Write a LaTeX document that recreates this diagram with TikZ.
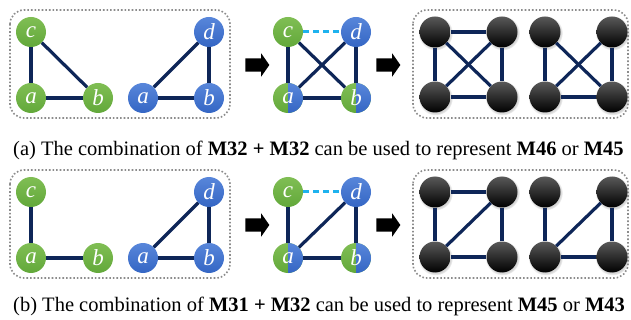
\documentclass[tikz,border=0pt]{standalone}
\usepackage{fontspec}
\setmainfont{Liberation Serif}
\usetikzlibrary{shapes.arrows,shadows}

\definecolor{verde}{RGB}{98,168,58}
\definecolor{verdechiaro}{RGB}{128,190,84}
\definecolor{blu}{RGB}{52,102,196}
\definecolor{bluchiaro}{RGB}{88,134,218}
\definecolor{navy}{RGB}{14,38,88}
\definecolor{ciano}{RGB}{30,178,238}

\begin{document}
\begin{tikzpicture}[x=1pt, y=-1pt,
    vnode/.style={circle, minimum size=30pt, inner sep=0pt, text=white,
                  font=\fontsize{23}{23}\selectfont\itshape},
    gnode/.style={vnode, top color=verdechiaro, bottom color=verde},
    bnode/.style={vnode, top color=bluchiaro, bottom color=blu},
    mnode/.style={gnode, path picture={
        \shade[top color=bluchiaro, bottom color=blu]
            (path picture bounding box.north) rectangle
            (path picture bounding box.south east);}},
    knode/.style={circle, minimum size=31pt, inner sep=0pt,
                  top color=black!65, bottom color=black,
                  circular drop shadow={shadow xshift=0.5pt, shadow yshift=-1pt,
                                        shadow scale=1.12, opacity=0.35}},
    link/.style={draw=navy, line width=3.2pt},
    newlink/.style={draw=ciano, line width=3pt, dash pattern=on 6pt off 4pt},
    box/.style={draw=black!45, line width=1.6pt, dotted, rounded corners=14pt},
    step arrow/.style={single arrow, fill=black, inner xsep=0pt, inner ysep=6.5pt,
                       minimum height=24pt, single arrow head extend=5pt,
                       single arrow tip angle=110},
    caption/.style={anchor=base west, inner sep=0pt,
                    font=\fontsize{20.5}{20.5}\selectfont}
]
\useasboundingbox (0,0) rectangle (631,320);

% Due righe: (a) in alto, (b) in basso
\foreach \r/\dy in {a/0, b/160} {
    % Cornici tratteggiate
    \draw[box] (10,10+\dy) rectangle (230,118+\dy);
    \draw[box] (413,10+\dy) rectangle (628,118+\dy);

    % Frecce fra le fasi
    \node[step arrow] at (255,65+\dy) (\r-arr1) {};
    \node[step arrow] at (386,65+\dy) (\r-arr2) {};

    % Motivo verde e motivo blu
    \node[gnode] at (31,32+\dy)  (\r-gc) {c};
    \node[gnode] at (31,98+\dy)  (\r-ga) {a};
    \node[gnode] at (98,98+\dy)  (\r-gb) {b};
    \node[bnode] at (143,98+\dy) (\r-ba) {a};
    \node[bnode] at (209,98+\dy) (\r-bb) {b};
    \node[bnode] at (209,32+\dy) (\r-bd) {d};

    % Unione dei due motivi
    \node[gnode] at (288,32+\dy) (\r-uc) {c};
    \node[bnode] at (356,32+\dy) (\r-ud) {d};
    \node[mnode] at (288,98+\dy) (\r-ua) {a};
    \node[mnode] at (356,98+\dy) (\r-ub) {b};

    % Motivi risultanti
    \node[knode] at (435,32+\dy) (\r-k1) {};
    \node[knode] at (502,32+\dy) (\r-k2) {};
    \node[knode] at (435,97+\dy) (\r-k3) {};
    \node[knode] at (502,97+\dy) (\r-k4) {};
    \node[knode] at (545,32+\dy) (\r-k5) {};
    \node[knode] at (612,32+\dy) (\r-k6) {};
    \node[knode] at (545,97+\dy) (\r-k7) {};
    \node[knode] at (612,97+\dy) (\r-k8) {};

    % Archi comuni
    \draw[link] (\r-gc) -- (\r-ga);
    \draw[link] (\r-ga) -- (\r-gb);
    \draw[link] (\r-ba) -- (\r-bb);
    \draw[link] (\r-ba) -- (\r-bd);
    \draw[link] (\r-bd) -- (\r-bb);
    \draw[newlink] (\r-uc) -- (\r-ud);
    \draw[link] (\r-uc) -- (\r-ua);
    \draw[link] (\r-ua) -- (\r-ub);
    \draw[link] (\r-ud) -- (\r-ub);
    \draw[link] (\r-ua) -- (\r-ud);
    \draw[link] (\r-k1) -- (\r-k2);
    \draw[link] (\r-k1) -- (\r-k3);
    \draw[link] (\r-k2) -- (\r-k4);
    \draw[link] (\r-k3) -- (\r-k4);
    \draw[link] (\r-k3) -- (\r-k2);
    \draw[link] (\r-k5) -- (\r-k7);
    \draw[link] (\r-k6) -- (\r-k8);
    \draw[link] (\r-k7) -- (\r-k8);
    \draw[link] (\r-k7) -- (\r-k6);
}

% Archi presenti solo in (a)
\draw[link] (a-gc) -- (a-gb);
\draw[link] (a-uc) -- (a-ub);
\draw[link] (a-k1) -- (a-k4);
\draw[link] (a-k5) -- (a-k8);

% Didascalie
\node[caption] at (13,156) (capa) {(a) The combination of \textbf{M32 + M32} can be used to represent \textbf{M46} or \textbf{M45}};
\node[caption] at (13,311) (capb) {(b) The combination of \textbf{M31 + M32} can be used to represent \textbf{M45} or \textbf{M43}};

\end{tikzpicture}
\end{document}
